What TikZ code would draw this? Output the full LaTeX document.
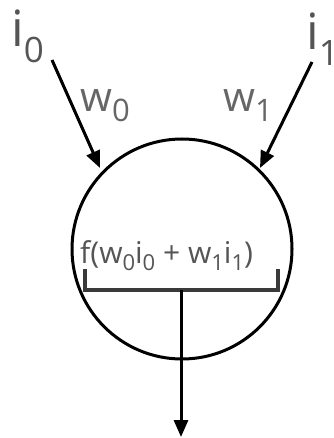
\documentclass[tikz,border=0pt]{standalone}
\usepackage{fontspec}
\setmainfont{Open Sans}
\usetikzlibrary{arrows.meta}
\definecolor{txtgray}{HTML}{555555}
\definecolor{lblgray}{HTML}{666666}
\definecolor{brgray}{HTML}{3A3A3A}
\tikzset{
  wire/.style={line width=3pt, black},
  arrowwire/.style={wire, -{Triangle[length=17pt,width=14pt]}},
  neuron/.style={draw, line width=3pt, circle, minimum size=220pt, inner sep=0pt},
  bigtxt/.style={inner sep=0pt, anchor=base west, text=txtgray, font=\fontsize{50}{50}\selectfont},
  wtxt/.style={inner sep=0pt, anchor=base west, text=lblgray, font=\fontsize{41}{41}\selectfont},
  ftxt/.style={inner sep=0pt, anchor=base west, text=txtgray, font=\fontsize{30}{30}\selectfont},
  bracket/.style={line width=3.2pt, brgray},
}
\begin{document}
\begin{tikzpicture}[x=1pt,y=-1pt]
\useasboundingbox (0,0) rectangle (333,438);
\node[neuron] (n) at (182,249) {};
\node[bigtxt] (i0) at (11,47) {i\raisebox{-16pt}{\fontsize{35}{35}\selectfont 0}};
\node[bigtxt] (i1) at (306,50) {i\raisebox{-16pt}{\fontsize{35}{35}\selectfont 1}};
\node[wtxt] (w0) at (80,112) {w\raisebox{-10pt}{\fontsize{31}{31}\selectfont 0}};
\node[wtxt] (w1) at (223,112) {w\raisebox{-10pt}{\fontsize{31}{31}\selectfont 1}};
\node[ftxt] (f) at (80,263) {f(w\raisebox{-7pt}{\fontsize{22}{22}\selectfont 0}i\raisebox{-7pt}{\fontsize{22}{22}\selectfont 0} + w\raisebox{-7pt}{\fontsize{22}{22}\selectfont 1}i\raisebox{-7pt}{\fontsize{22}{22}\selectfont 1})};
\coordinate (s0) at (52,60);
\coordinate (t0) at (100,168);
\coordinate (s1) at (312,62);
\coordinate (t1) at (260,168);
\draw[arrowwire] (s0) -- (t0);
\draw[arrowwire] (s1) -- (t1);
\coordinate (bl) at (85,269);
\coordinate (blb) at (85,290);
\coordinate (brb) at (278,290);
\coordinate (br) at (278,269);
\coordinate (om) at (181,290);
\coordinate (out) at (181,437);
\draw[bracket] (bl) -- (blb) -- (brb) -- (br);
\draw[arrowwire] (om) -- (out);
\end{tikzpicture}
\end{document}
